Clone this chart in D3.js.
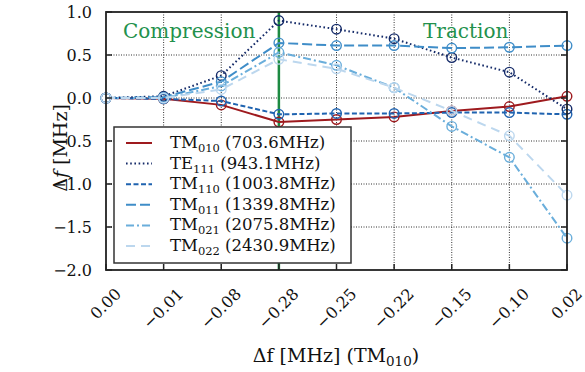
<!DOCTYPE html>
<html>
<head>
<meta charset="utf-8">
<script src="https://cdn.jsdelivr.net/npm/d3@7"></script>
<style>
  body { margin: 0; background: #fff; }
</style>
</head>
<body>
<svg id="chart" width="585" height="372"></svg>
<script>
// TM010 shift, used as the x categories
const xLabels = ["0.00", "\u22120.01", "\u22120.08", "\u22120.28", "\u22120.25", "\u22120.22", "\u22120.15", "\u22120.10", "0.02"];
const yTicks = [1.0, 0.5, 0.0, -0.5, -1.0, -1.5, -2.0];

const tm010 = [0, -0.01, -0.08, -0.28, -0.25, -0.22, -0.15, -0.10, 0.02];
const te111 = [0, 0.02, 0.26, 0.90, 0.80, 0.69, 0.47, 0.30, -0.13];
const tm110 = [0, -0.01, -0.035, -0.19, -0.18, -0.18, -0.17, -0.17, -0.19];
const tm011 = [0, 0.01, 0.19, 0.64, 0.61, 0.61, 0.58, 0.59, 0.61];
const tm021 = [0, 0.0, 0.14, 0.53, 0.38, 0.12, -0.33, -0.69, -1.63];
const tm022 = [0, 0.0, 0.10, 0.45, 0.34, 0.12, -0.15, -0.44, -1.13];

const seriesNames = [["TM", "010", "(703.6MHz)"], ["TE", "111", "(943.1MHz)"], ["TM", "110", "(1003.8MHz)"],
                     ["TM", "011", "(1339.8MHz)"], ["TM", "021", "(2075.8MHz)"], ["TM", "022", "(2430.9MHz)"]];
const seriesValues = [tm010, te111, tm110, tm011, tm021, tm022];
const colors = ["#9e1a1e", "#142a68", "#1f63b0", "#3f8dc8", "#6aaedb", "#bcd7ee"];
const dashes = [null, "1.6,2.6", "5,2.5", "10,4", "8,3,2,3", "9,6"];

const FONT = "'DejaVu Serif', 'Liberation Serif', serif";
const margin = {top: 12, right: 18, bottom: 102, left: 106};
const W = 585, H = 372;
const svg = d3.select("#chart").attr("font-family", FONT);

const x = d3.scalePoint().domain(xLabels).range([margin.left, W - margin.right]);
const y = d3.scaleLinear().domain([-2, 1]).range([H - margin.bottom, margin.top]);

// grid
const grid = svg.append("g");
grid.selectAll(".gx").data(xLabels.slice(1, -1)).enter().append("line")
  .attr("x1", d => x(d)).attr("x2", d => x(d))
  .attr("y1", y(1)).attr("y2", y(-2))
  .attr("stroke", "#333").attr("stroke-width", 1).attr("stroke-dasharray", "1,1.5");
grid.selectAll(".gy").data(yTicks.slice(1, -1)).enter().append("line")
  .attr("x1", x.range()[0]).attr("x2", x.range()[1])
  .attr("y1", d => y(d)).attr("y2", d => y(d))
  .attr("stroke", "#333").attr("stroke-width", 1).attr("stroke-dasharray", "1,1.5");

// compression / traction divider
svg.append("line")
  .attr("x1", x("\u22120.28")).attr("x2", x("\u22120.28"))
  .attr("y1", y(1)).attr("y2", y(-2))
  .attr("stroke", "#1d8a42").attr("stroke-width", 2.5);

svg.append("text").attr("x", 123).attr("y", 38).attr("font-size", 20)
  .attr("fill", "#23914c").text("Compression");
svg.append("text").attr("x", 423).attr("y", 38).attr("font-size", 20)
  .attr("fill", "#23914c").text("Traction");

// series
const line = d3.line().x((d, i) => x(xLabels[i])).y(d => y(d));
seriesValues.forEach((vals, k) => {
  const g = svg.append("g");
  g.append("path").datum(vals)
    .attr("d", line)
    .attr("fill", "none")
    .attr("stroke", colors[k])
    .attr("stroke-width", 2)
    .attr("stroke-dasharray", dashes[k]);
  g.selectAll("circle").data(vals).enter().append("circle")
    .attr("cx", (d, i) => x(xLabels[i]))
    .attr("cy", d => y(d))
    .attr("r", 4.8)
    .attr("fill", "none")
    .attr("stroke", colors[k])
    .attr("stroke-width", 1.4);
});

// ticks (inward) on left, right, bottom
const tk = svg.append("g");
yTicks.forEach(v => {
  tk.append("line").attr("x1", x.range()[0]).attr("x2", x.range()[0] + 6)
    .attr("y1", y(v)).attr("y2", y(v)).attr("stroke", "#222").attr("stroke-width", 1.5);
  tk.append("line").attr("x1", x.range()[1]).attr("x2", x.range()[1] - 6)
    .attr("y1", y(v)).attr("y2", y(v)).attr("stroke", "#222").attr("stroke-width", 1.5);
  tk.append("text").attr("x", 92).attr("y", y(v)).attr("dy", "0.36em")
    .attr("text-anchor", "end").attr("font-size", 16).attr("fill", "#111")
    .text(v < 0 ? "\u2212" + Math.abs(v).toFixed(1) : v.toFixed(1));
});
xLabels.forEach(l => {
  tk.append("line").attr("x1", x(l)).attr("x2", x(l))
    .attr("y1", y(-2)).attr("y2", y(-2) - 6).attr("stroke", "#222").attr("stroke-width", 1.5);
  const t = tk.append("text").attr("text-anchor", "end").attr("font-size", 16)
    .attr("fill", "#111").text(l);
  const L = t.node().getComputedTextLength();
  const px = x(l) + 0.354 * L + 3.5;
  t.attr("transform", `translate(${px},295) rotate(-45)`);
});

// frame
svg.append("rect")
  .attr("x", x.range()[0]).attr("y", y(1))
  .attr("width", x.range()[1] - x.range()[0]).attr("height", y(-2) - y(1))
  .attr("fill", "none").attr("stroke", "#222").attr("stroke-width", 1.8);

// legend
const leg = svg.append("g").attr("transform", "translate(114,127)");
leg.append("rect").attr("width", 237).attr("height", 136)
  .attr("fill", "#fff").attr("stroke", "#333").attr("stroke-width", 1.5);
seriesNames.forEach((n, k) => {
  const ry = 16 + k * 20.6;
  leg.append("line").attr("x1", 12).attr("x2", 38).attr("y1", ry).attr("y2", ry)
    .attr("stroke", colors[k]).attr("stroke-width", 2)
    .attr("stroke-dasharray", dashes[k]);
  const t = leg.append("text").attr("x", 56).attr("y", ry + 5).attr("font-size", 16.5).attr("fill", "#111");
  t.append("tspan").text(n[0]);
  t.append("tspan").attr("font-size", 11.5).attr("dy", 4).text(n[1]);
  t.append("tspan").attr("dy", -4).text(" " + n[2]);
});

// axis titles
const yt = svg.append("text").attr("transform", "translate(67,148) rotate(-90)")
  .attr("text-anchor", "middle").attr("font-size", 19).attr("fill", "#111");
yt.append("tspan").text("\u0394");
yt.append("tspan").attr("font-style", "italic").text("f");
yt.append("tspan").text(" [MHz]");

const xt = svg.append("text").attr("x", 336).attr("y", 362)
  .attr("text-anchor", "middle").attr("font-size", 19).attr("fill", "#111");
xt.append("tspan").text("\u0394f [MHz] (TM");
xt.append("tspan").attr("font-size", 13.5).attr("dy", 4).text("010");
xt.append("tspan").attr("dy", -4).text(")");
</script>
</body>
</html>
